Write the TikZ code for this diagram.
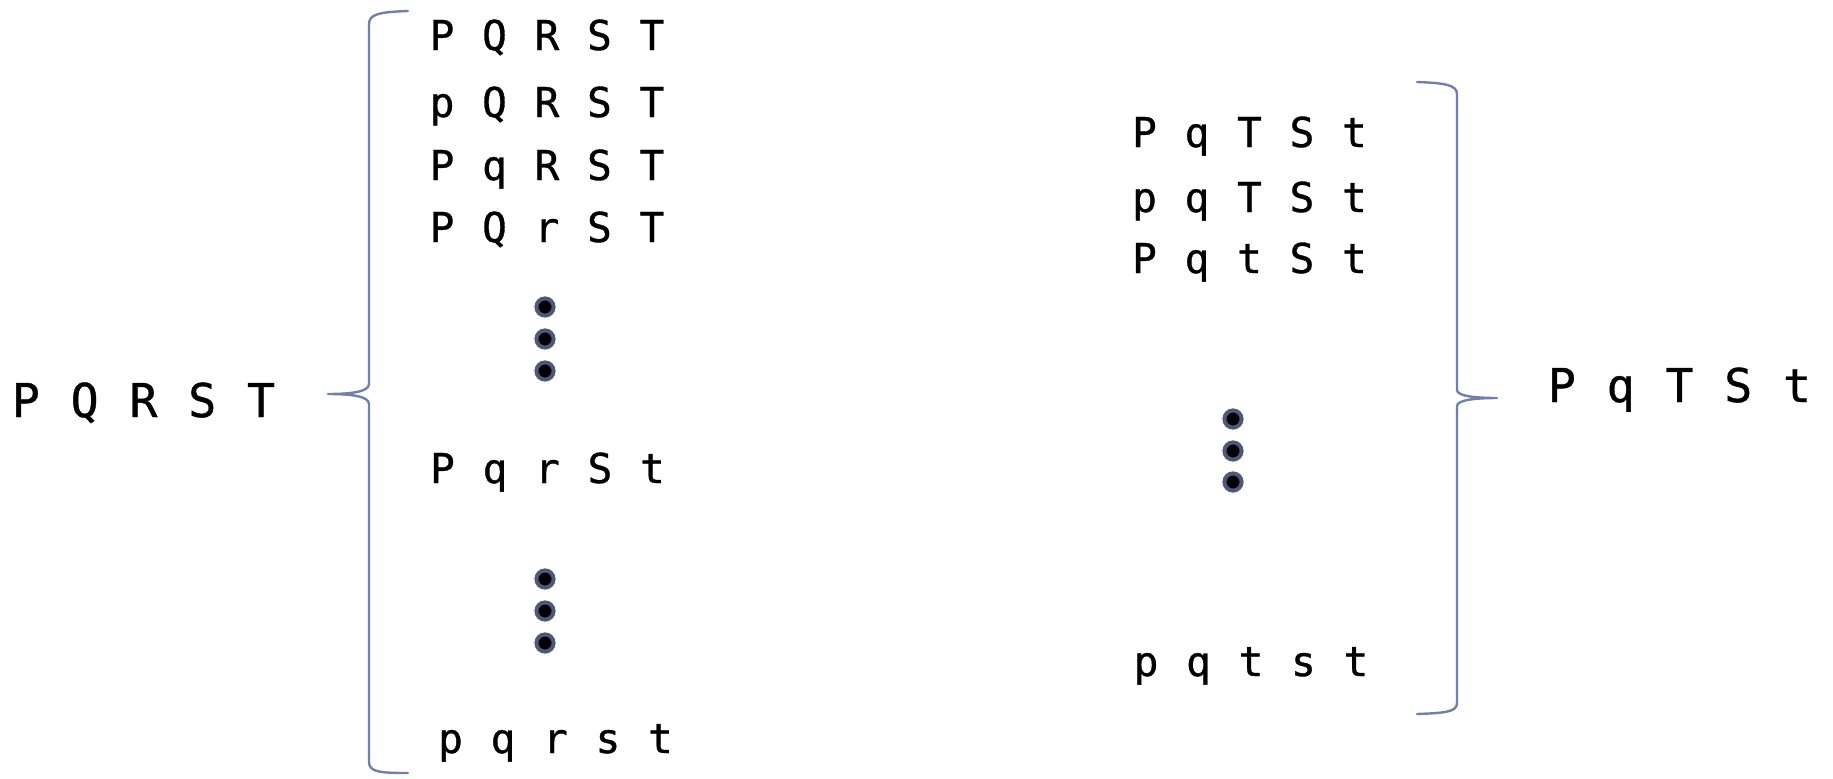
\documentclass[tikz,border=0pt]{standalone}
\usepackage{fontspec}
\newfontfamily\lettersfont[FakeBold=0.8]{DejaVu Sans Mono}
\definecolor{bracecol}{RGB}{112,128,170}
\definecolor{dotring}{RGB}{78,88,125}
\newcommand{\inrow}[5]{\makebox[26.25pt]{#1}\makebox[26.25pt]{#2}\makebox[26.25pt]{#3}\makebox[26.25pt]{#4}\makebox[26.25pt]{#5}}
\newcommand{\lblrow}[5]{\makebox[29.4pt]{#1}\makebox[29.4pt]{#2}\makebox[29.4pt]{#3}\makebox[29.4pt]{#4}\makebox[29.4pt]{#5}}
\tikzset{
  rowtext/.style={anchor=base, inner sep=0pt, outer sep=0pt, font=\lettersfont\fontsize{20.6pt}{25pt}\selectfont},
  labeltext/.style={anchor=base, inner sep=0pt, outer sep=0pt, font=\lettersfont\fontsize{23.3pt}{28pt}\selectfont},
  bracepath/.style={draw=bracecol, line width=1.2pt, line cap=round, line join=round},
  vdot/.style={fill=black, draw=dotring, line width=2pt}
}
\begin{document}
\begin{tikzpicture}[x=0.5pt,y=-0.5pt]
\useasboundingbox (0,0) rectangle (1833,778);
% left label
\node[labeltext] (lbl) at (143.5,417) {\lblrow{P}{Q}{R}{S}{T}};
% left brace
\draw[bracepath] (408,11) .. controls (380,12) and (369,14) .. (369,24) -- (369,384)
  .. controls (369,392) and (350,394) .. (328,394)
  .. controls (350,394) and (369,396) .. (369,404) -- (369,762)
  .. controls (369,772) and (380,773) .. (408,773);
% left rows
\node[rowtext] (l1) at (547,50) {\inrow{P}{Q}{R}{S}{T}};
\node[rowtext] (l2) at (547,117) {\inrow{p}{Q}{R}{S}{T}};
\node[rowtext] (l3) at (547,180) {\inrow{P}{q}{R}{S}{T}};
\node[rowtext] (l4) at (547,242) {\inrow{P}{Q}{r}{S}{T}};
\node[rowtext] (l5) at (547.5,483) {\inrow{P}{q}{r}{S}{t}};
\node[rowtext] (l6) at (555.5,753) {\inrow{p}{q}{r}{s}{t}};
% left dots
\foreach \yy in {307,339,371,579,611,643} {
  \draw[vdot] (545,\yy) circle[radius=4.3pt];
}
% right rows
\node[rowtext] (r1) at (1249.5,147) {\inrow{P}{q}{T}{S}{t}};
\node[rowtext] (r2) at (1249.5,212) {\inrow{p}{q}{T}{S}{t}};
\node[rowtext] (r3) at (1249.5,273) {\inrow{P}{q}{t}{S}{t}};
\node[rowtext] (r4) at (1251,676) {\inrow{p}{q}{t}{s}{t}};
\foreach \yy in {419,451,482} {
  \draw[vdot] (1233,\yy) circle[radius=4.3pt];
}
% right brace
\draw[bracepath] (1417,82) .. controls (1445,83) and (1457,85) .. (1457,94) -- (1457,390)
  .. controls (1457,396) and (1475,398) .. (1497,398)
  .. controls (1475,398) and (1457,400) .. (1457,406) -- (1457,703)
  .. controls (1457,712) and (1445,713) .. (1417,714);
% right label
\node[labeltext] (rbl) at (1679.5,402) {\lblrow{P}{q}{T}{S}{t}};
\end{tikzpicture}
\end{document}
